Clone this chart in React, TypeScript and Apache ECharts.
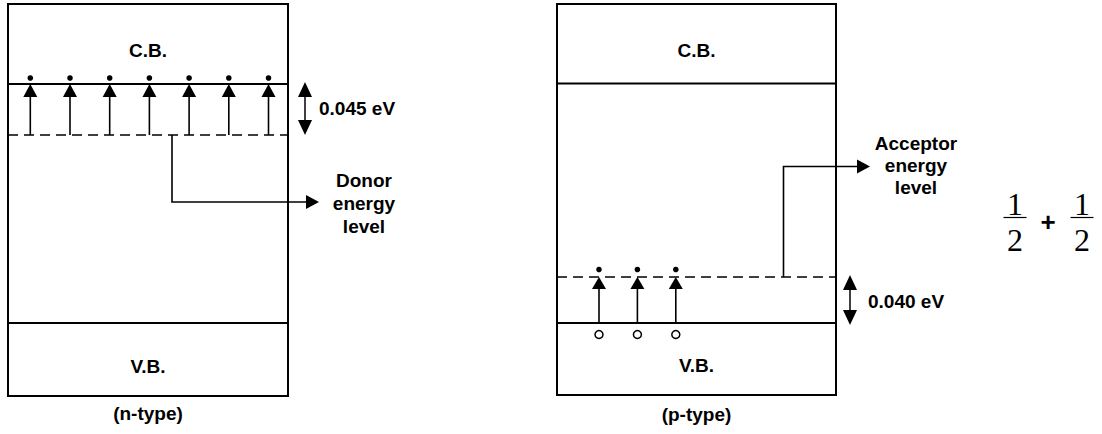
import React, { useEffect, useRef } from "react";
import * as echarts from "echarts";

// ---- content (text / counts) ----
const panelTitles = ["(n-type)", "(p-type)"];
const bandLabels = ["C.B.", "V.B."];
const gapLabels = ["0.045 eV", "0.040 eV"];
const levelLabels = ["Donor\nenergy\nlevel", "Acceptor\nenergy\nlevel"];
const carrierCounts = [7, 3];
const fracNumerators = ["1", "1"];
const fracDenominators = ["2", "2"];
const fracOperator = "+";

const INK = "#000";
const SANS = "'Liberation Sans', Arial, sans-serif";
const SERIF = "'Liberation Serif', 'DejaVu Serif', serif";

function txt(text: string, x: number, y: number, size: number, opts: any = {}) {
  return {
    type: "text",
    silent: true,
    style: {
      text,
      x,
      y,
      fill: INK,
      fontSize: size,
      fontFamily: opts.family || SANS,
      fontWeight: opts.weight || "bold",
      lineHeight: opts.lineHeight || size * 1.2,
      align: opts.align || "center",
      textAlign: opts.align || "center",
      verticalAlign: "middle",
      textVerticalAlign: "middle",
    },
  };
}
function line(x1: number, y1: number, x2: number, y2: number, w = 1.6, dash?: number[]) {
  return {
    type: "line",
    silent: true,
    shape: { x1, y1, x2, y2 },
    style: { stroke: INK, lineWidth: w, lineDash: dash || null },
  };
}
function poly(points: number[][]) {
  return { type: "polygon", silent: true, shape: { points }, style: { fill: INK } };
}
function upHead(x: number, tip: number, len = 13, half = 7) {
  return poly([[x, tip], [x - half, tip + len], [x + half, tip + len]]);
}
function downHead(x: number, tip: number, len = 15, half = 7) {
  return poly([[x, tip], [x - half, tip - len], [x + half, tip - len]]);
}
function rightHead(tip: number, y: number, len = 13, half = 7) {
  return poly([[tip, y], [tip - len, y - half], [tip - len, y + half]]);
}
function dot(cx: number, cy: number, r = 2.8) {
  return { type: "circle", silent: true, shape: { cx, cy, r }, style: { fill: INK } };
}
function hole(cx: number, cy: number, r = 4) {
  return { type: "circle", silent: true, shape: { cx, cy, r }, style: { fill: "#fff", stroke: INK, lineWidth: 1.5 } };
}
function doubleArrow(x: number, top: number, bottom: number) {
  return [
    line(x, top + 12, x, bottom - 12, 1.5),
    upHead(x, top, 15, 7),
    downHead(x, bottom, 15, 7),
  ];
}

function buildElements() {
  const els: any[] = [];
  const FONT = 19;

  // ---------- n-type panel ----------
  {
    const L = 8, R = 288, T = 4, B = 396;
    const cb = 84, donor = 135, vb = 323;
    const cx = (L + R) / 2;
    els.push({
      type: "rect", silent: true,
      shape: { x: L, y: T, width: R - L, height: B - T },
      style: { fill: "none", stroke: INK, lineWidth: 2 },
    });
    els.push(line(L, cb, R, cb, 1.8));
    els.push(line(L, donor, R, donor, 1.6, [10, 6]));
    els.push(line(L, vb, R, vb, 1.8));
    els.push(txt(bandLabels[0], cx, 50, FONT));
    els.push(txt(bandLabels[1], cx, 366, FONT));
    els.push(txt(panelTitles[0], cx, 413, FONT));
    const n = carrierCounts[0];
    const first = L + 22.3, step = 39.7;
    for (let i = 0; i < n; i++) {
      const x = first + i * step;
      els.push(line(x, donor, x, cb + 10, 1.6));
      els.push(upHead(x, cb, 13, 7));
      els.push(dot(x, 78));
    }
    // connector to label
    els.push({
      type: "polyline", silent: true,
      shape: { points: [[172, donor], [172, 202], [308, 202]] },
      style: { stroke: INK, lineWidth: 1.6, fill: null },
    });
    els.push(rightHead(319, 202, 13, 7));
    els.push(txt(levelLabels[0], 364, 203, FONT, { lineHeight: 23 }));
    els.push(...doubleArrow(305, 82, 135));
    els.push(txt(gapLabels[0], 319, 108, FONT, { align: "left" }));
  }

  // ---------- p-type panel ----------
  {
    const L = 557, R = 836, T = 4, B = 395;
    const cb = 83.5, acc = 277, vb = 323;
    const cx = (L + R) / 2;
    els.push({
      type: "rect", silent: true,
      shape: { x: L, y: T, width: R - L, height: B - T },
      style: { fill: "none", stroke: INK, lineWidth: 2 },
    });
    els.push(line(L, cb, R, cb, 1.8));
    els.push(line(L, acc, R, acc, 1.6, [10, 6]));
    els.push(line(L, vb, R, vb, 1.8));
    els.push(txt(bandLabels[0], cx, 50, FONT));
    els.push(txt(bandLabels[1], cx, 365, FONT));
    els.push(txt(panelTitles[1], cx, 414, FONT));
    const n = carrierCounts[1];
    const first = 599, step = 38.4;
    for (let i = 0; i < n; i++) {
      const x = first + i * step;
      els.push(line(x, vb, x, acc + 10, 1.6));
      els.push(upHead(x, acc, 12, 7));
      els.push(dot(x, 269.5));
      els.push(hole(x, 334.5));
    }
    els.push({
      type: "polyline", silent: true,
      shape: { points: [[783.5, acc], [783.5, 166.5], [860, 166.5]] },
      style: { stroke: INK, lineWidth: 1.6, fill: null },
    });
    els.push(rightHead(870, 166.5, 13, 7));
    els.push(txt(levelLabels[1], 916, 165, FONT, { lineHeight: 22 }));
    els.push(...doubleArrow(850, 275, 325));
    els.push(txt(gapLabels[1], 868, 301, FONT, { align: "left" }));
  }

  // ---------- fraction expression ----------
  {
    const fx = [1015, 1082];
    const FS = 32;
    for (let i = 0; i < fx.length; i++) {
      els.push(txt(fracNumerators[i], fx[i], 204, FS, { family: SERIF, weight: "normal" }));
      els.push(line(fx[i] - 11.5, 217.5, fx[i] + 11.5, 217.5, 1.2));
      els.push(txt(fracDenominators[i], fx[i], 240, FS, { family: SERIF, weight: "normal" }));
    }
    els.push(txt(fracOperator, 1048, 222, 26, { weight: "bold" }));
  }
  return els;
}

export default function App() {
  const ref = useRef<HTMLDivElement>(null);
  useEffect(() => {
    if (!ref.current) return;
    const chart = echarts.init(ref.current, null, { renderer: "svg" });
    chart.setOption({
      animation: false,
      backgroundColor: "#fff",
      graphic: { elements: buildElements() },
    });
    return () => chart.dispose();
  }, []);
  return (
    <div
      ref={ref}
      style={{ position: "fixed", left: 0, top: 0, width: 1102, height: 434, background: "#fff" }}
    />
  );
}
